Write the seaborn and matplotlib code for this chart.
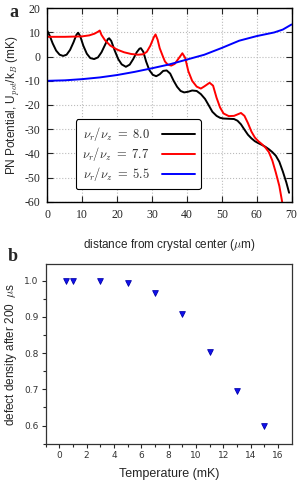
import numpy as np
import pandas as pd
import matplotlib
matplotlib.use("Agg")
import matplotlib.pyplot as plt
import seaborn as sns

# panel a: PN potential curves
x_80 = [0, 0.7, 1.5, 2.5, 3.5, 4.5, 5.5, 6.5, 7.5, 8.3, 8.8, 9.4, 10.3, 11.3, 12.3, 13.4,
        14.5, 15.5, 16.5, 17.3, 17.7, 18.3, 19.3, 20.3, 21.3, 22.5, 23.6, 24.6, 25.6, 26.4,
        26.8, 27.5, 28.3, 29.2, 30.2, 31.2, 32.2, 33.2, 34.2, 35.2, 36.2, 37.2, 38.2, 39.2,
        40.4, 41.5, 42.8, 44, 45.2, 46.2, 47.3, 48.5, 49.5, 50.5, 52, 53.5, 54.5, 55.5,
        56.5, 57.5, 58.5, 59.5, 60.5, 61.5, 62.5, 63.5, 64.5, 65.5, 66.5, 67.5, 68.5, 69.3]
y_80 = [10.6, 8.5, 5.5, 2.5, 0.8, 0.3, 0.8, 2.8, 6.0, 9.0, 9.9, 8.5, 4.5, 1.2, -0.6, -1.0,
        -0.3, 1.8, 4.8, 7.2, 7.6, 6.5, 2.5, -1.0, -3.2, -4.2, -3.3, -1.0, 1.8, 3.3,
        3.5, 2.0, -2.0, -5.5, -7.5, -8.1, -7.3, -5.9, -5.7, -7.0, -10.0, -12.5, -14.2, -14.8,
        -14.5, -14.0, -14.2, -15.5, -17.5, -20.0, -22.8, -24.5, -25.3, -25.6, -25.7, -25.8, -26.5, -28.0,
        -30.2, -32.3, -33.8, -35.0, -35.8, -36.5, -37.3, -38.3, -39.5, -41.0, -43.5, -47.5, -52.0, -56.3]

x_77 = [0, 5, 10, 12, 13.5, 14.5, 15, 15.5, 16.5, 18, 20, 22, 24, 26, 27.5, 28.5, 29.5,
        30.5, 31, 31.6, 32.2, 33, 33.7, 34.5, 35.5, 36.5, 37.5, 38.7, 39.5, 40.4, 41.5,
        42.8, 44, 45, 46.5, 47.5, 48.5, 49.5, 50.5, 52, 53.5, 55.5, 56.5, 57.5, 58.5,
        59.5, 60.5, 61.5, 62.5, 63.5, 64.5, 65.5, 66.5, 67.3]
y_77 = [8.2, 8.2, 8.4, 8.8, 9.5, 10.3, 10.8, 9.0, 6.8, 4.6, 2.9, 1.8, 1.1, 0.8, 1.0, 2.0, 4.5,
        8.0, 9.2, 7.0, 3.5, 0.5, -2.0, -3.3, -3.7, -3.0, -1.0, 1.4, -0.5, -6.0, -10.0,
        -12.4, -13.2, -12.3, -10.8, -12.0, -17.0, -21.0, -23.5, -24.6, -24.5, -23.3, -24.5, -27.5, -31.0,
        -33.5, -35.0, -36.2, -37.6, -39.5, -43.0, -48.0, -53.5, -60.0]

x_55 = [0, 5, 10, 15, 20, 25, 30, 35, 40, 45, 50, 55, 60, 65, 67.5, 70]
y_55 = [-10.0, -9.8, -9.3, -8.6, -7.6, -6.3, -4.8, -3.2, -1.2, 0.8, 3.6, 6.6, 8.5, 10.0, 11.2, 13.3]

ratios = ["8.0", "7.7", "5.5"]
colors = ["black", "red", "blue"]

# panel b: defect density vs temperature
temps = [0.5, 1, 3, 5, 7, 9, 11, 13, 15]
density = [1.0, 1.0, 1.0, 0.994, 0.967, 0.907, 0.802, 0.696, 0.599]

sns.set_style("ticks")
plt.rcParams["axes.unicode_minus"] = False
plt.rcParams["mathtext.fontset"] = "cm"

fig = plt.figure(figsize=(3.04, 4.88), dpi=100)
ax1 = fig.add_axes([0.156, 0.5867, 0.803, 0.3963])
ax2 = fig.add_axes([0.150, 0.0908, 0.810, 0.368])

for xs, ys, r, c in zip([x_80, x_77, x_55], [y_80, y_77, y_55], ratios, colors):
    sns.lineplot(x=xs, y=ys, ax=ax1, color=c, lw=1.4, sort=False, estimator=None,
                 label=r"$\nu_r/\nu_z\ =\ %s$" % r)

ax1.set_xlim(0, 70)
ax1.set_ylim(-60, 20)
ax1.set_xticks(np.arange(0, 71, 10))
ax1.set_yticks(np.arange(-60, 21, 10))
ax1.grid(True, color="#bbbbbb", linestyle=":", lw=0.8)
ax1.tick_params(direction="in", top=True, right=True, length=4, width=0.8, labelsize=8.5, pad=5)
for lab in ax1.get_xticklabels() + ax1.get_yticklabels():
    lab.set_family("Liberation Serif")
for s in ax1.spines.values():
    s.set_linewidth(1.0)
    s.set_color("black")
ax1.set_xlabel(r"distance from crystal center ($\mathrm{\mu}$m)", family="Liberation Sans",
               fontsize=8.5, labelpad=12)
ax1.set_ylabel(r"PN Potential, U$_{pot}$/k$_B$ (mK)", family="Liberation Sans", fontsize=8.5,
               labelpad=2)
leg = ax1.legend(loc="lower left", bbox_to_anchor=(0.117, 0.064), borderaxespad=0,
                 markerfirst=False, fancybox=True, framealpha=1, edgecolor="black",
                 fontsize=9, handlelength=2.6, labelspacing=0.15, borderpad=0.5,
                 handletextpad=1.0)
leg.get_frame().set_linewidth(0.8)

sns.scatterplot(x=temps, y=density, ax=ax2, marker="v", color="#1010ee", edgecolor="#0000aa",
                s=17, linewidth=0.6)
ax2.set_xlim(-1, 17)
ax2.set_ylim(0.55, 1.046)
ax2.set_xticks(np.arange(0, 17, 2))
ax2.set_xticks(np.arange(-1, 17, 1), minor=True)
ax2.set_yticks([0.6, 0.7, 0.8, 0.9, 1.0])
ax2.set_yticks(np.arange(0.55, 1.05, 0.05), minor=True)
ax2.set_yticklabels(["0.6", "0.7", "0.8", "0.9", "1.0"])
ax2.tick_params(which="major", direction="out", length=3, width=0.8, labelsize=6.5, pad=2,
                labelcolor="#333333")
ax2.tick_params(which="minor", direction="out", length=2, width=0.8)
for s in ax2.spines.values():
    s.set_linewidth(0.9)
    s.set_color("#333333")
ax2.set_xlabel("Temperature (mK)", family="Liberation Sans", fontsize=9, labelpad=6)
ax2.set_ylabel(r"defect density after 200  $\mathrm{\mu}$s", family="Liberation Sans",
               fontsize=8.5, labelpad=4)

fig.text(0.03, 0.975, "a", family="Liberation Serif", fontweight="bold", fontsize=13, va="center")
fig.text(0.025, 0.475, "b", family="Liberation Serif", fontweight="bold", fontsize=13, va="center")

fig.savefig("out.png", dpi=100)
